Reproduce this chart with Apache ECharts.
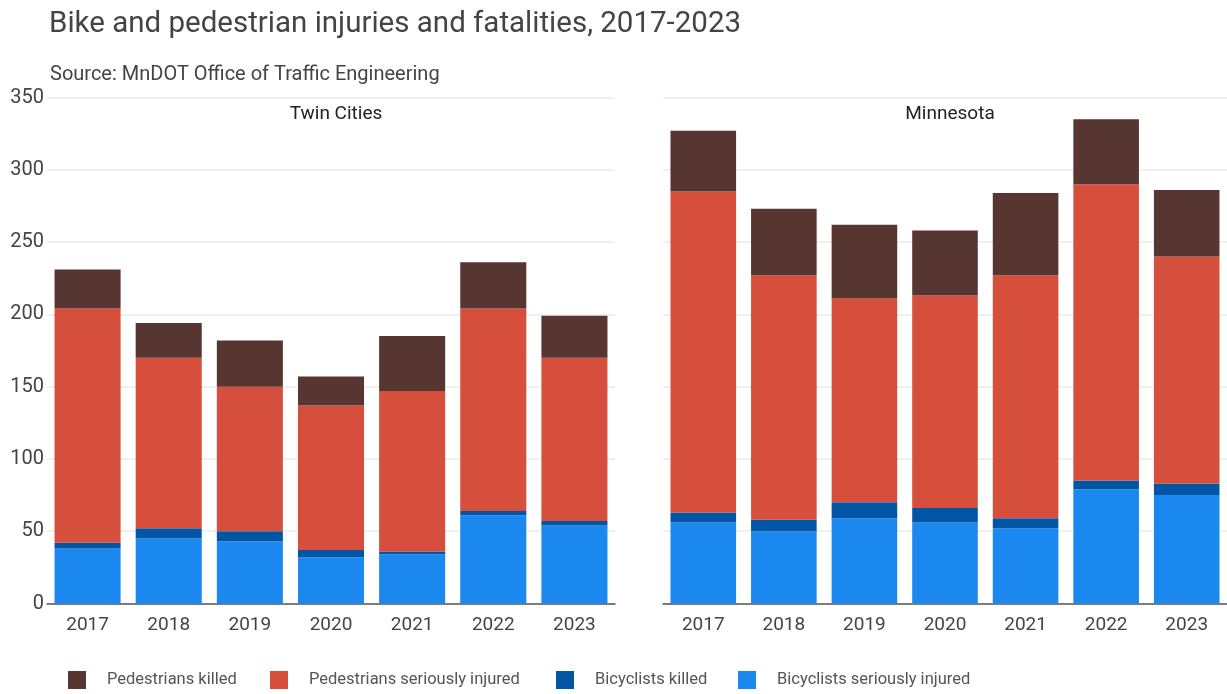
<!DOCTYPE html>
<html>
<head>
<meta charset="utf-8">
<script src="https://cdn.jsdelivr.net/npm/echarts@6/dist/echarts.min.js"></script>
<style>
html,body{margin:0;padding:0;background:#fff;}
#chart{width:1227px;height:694px;}
</style>
</head>
<body>
<div id="chart"></div>
<script>
const years = ['2017','2018','2019','2020','2021','2022','2023'];
const seriesNames = ['Pedestrians killed','Pedestrians seriously injured','Bicyclists killed','Bicyclists seriously injured'];
const colors = ['#573531','#d64e3c','#0055a5','#1a88ee'];
// Twin Cities
const tcBikeInjured = [38, 45, 43, 32, 34, 61, 54];
const tcBikeKilled = [4, 7, 7, 5, 2, 3, 3];
const tcPedInjured = [162, 118, 100, 100, 111, 140, 113];
const tcPedKilled = [27, 24, 32, 20, 38, 32, 29];
// Minnesota
const mnBikeInjured = [56, 50, 59, 56, 52, 79, 75];
const mnBikeKilled = [7, 8, 11, 10, 7, 6, 8];
const mnPedInjured = [222, 169, 141, 147, 168, 205, 157];
const mnPedKilled = [42, 46, 51, 45, 57, 45, 46];
const yTicks = [0, 50, 100, 150, 200, 250, 300, 350];

const FONT = 'Roboto, "Liberation Sans", sans-serif';
const TXT = '#444';

const chart = echarts.init(document.getElementById('chart'), null, {renderer: 'canvas'});

function xAxis(i){
  return {
    type: 'category', gridIndex: i, data: years,
    axisTick: {show: false},
    axisLine: {show: true, lineStyle: {color: '#555', width: 1.5}},
    axisLabel: {color: TXT, fontSize: 19, fontFamily: FONT, margin: 12}
  };
}
function yAxis(i, showLabels){
  return {
    type: 'value', gridIndex: i, min: yTicks[0], max: yTicks[yTicks.length-1], interval: 50,
    axisLine: {show: false}, axisTick: {show: false},
    axisLabel: {show: showLabels, color: TXT, fontSize: 20, fontFamily: FONT, margin: 3},
    splitLine: {lineStyle: {color: '#ebebeb', width: 1.5}}
  };
}
function bar(name, data, idx, color){
  return {
    name: name, type: 'bar', stack: 's' + idx, xAxisIndex: idx, yAxisIndex: idx,
    data: data, itemStyle: {color: color}, barCategoryGap: '18.6%',
    emphasis: {disabled: true}
  };
}
const tcSets = [tcPedKilled, tcPedInjured, tcBikeKilled, tcBikeInjured];
const mnSets = [mnPedKilled, mnPedInjured, mnBikeKilled, mnBikeInjured];
const series = [];
[[tcSets,0],[mnSets,1]].forEach(([sets, idx]) => {
  for (let k = 3; k >= 0; k--) series.push(bar(seriesNames[k], sets[k], idx, colors[k]));
});

const legendLefts = [68, 270, 556, 738];
const legends = seriesNames.map((n, i) => ({
  data: [n], left: legendLefts[i], top: 671, itemWidth: 18, itemHeight: 18, padding: 0,
  icon: 'rect', selectedMode: false,
  textStyle: {color: '#555', fontSize: 16.5, fontFamily: FONT, padding: [0,0,0,16]}
}));

chart.setOption({
  animation: false,
  color: colors,
  title: [
    {text: 'Bike and pedestrian injuries and fatalities, 2017-2023', left: 44, top: 5,
     textStyle: {color: TXT, fontSize: 29.5, fontWeight: 'normal', fontFamily: FONT}},
    {text: 'Source: MnDOT Office of Traffic Engineering', left: 45, top: 60,
     textStyle: {color: TXT, fontSize: 20, fontWeight: 'normal', fontFamily: FONT}},
    {text: 'Twin Cities', left: 331, top: 100, textAlign: 'center',
     textStyle: {color: '#222', fontSize: 19, fontWeight: 'normal', fontFamily: FONT}},
    {text: 'Minnesota', left: 945, top: 100, textAlign: 'center',
     textStyle: {color: '#222', fontSize: 19, fontWeight: 'normal', fontFamily: FONT}}
  ],
  legend: legends,
  grid: [
    {left: 47, width: 568, top: 97.5, height: 506},
    {left: 663, width: 564, top: 97.5, height: 506}
  ],
  xAxis: [xAxis(0), xAxis(1)],
  yAxis: [yAxis(0, true), yAxis(1, false)],
  series: series
});
</script>
</body>
</html>
